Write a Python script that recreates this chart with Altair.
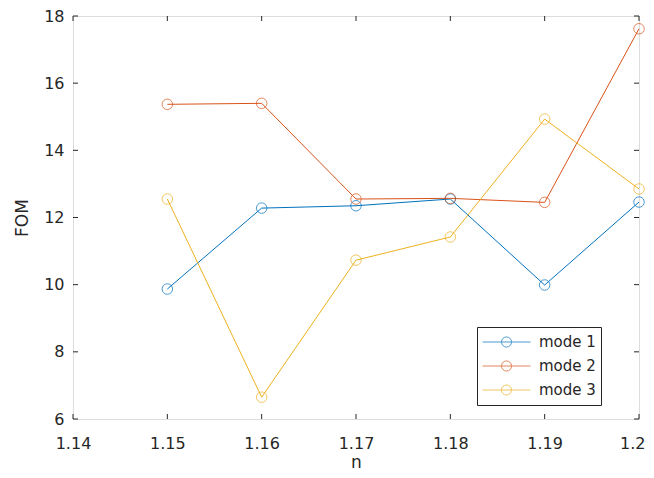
import altair as alt
import pandas as pd

n_vals = [1.15, 1.16, 1.17, 1.18, 1.19, 1.20]
mode1 = [9.87, 12.28, 12.35, 12.55, 9.99, 12.46]
mode2 = [15.37, 15.40, 12.55, 12.57, 12.45, 17.62]
mode3 = [12.55, 6.65, 10.73, 11.42, 14.93, 12.85]
series = ["mode 1", "mode 2", "mode 3"]
colors = ["#0072BD", "#D95319", "#EDB120"]
x_ticks = [1.14, 1.15, 1.16, 1.17, 1.18, 1.19, 1.20]
y_ticks = [6, 8, 10, 12, 14, 16, 18]

rows = []
for name, vals in zip(series, [mode1, mode2, mode3]):
    for n, v in zip(n_vals, vals):
        rows.append({"n": n, "FOM": v, "mode": name})
df = pd.DataFrame(rows)
xt = pd.DataFrame({"n": x_ticks})
yt = pd.DataFrame({"FOM": y_ticks})

W, H = 566, 403
FONT = "DejaVu Sans"
TXT = "#262626"
xscale = alt.Scale(domain=[1.14, 1.2], nice=False, zero=False)
yscale = alt.Scale(domain=[6, 18], nice=False, zero=False)

xaxis = alt.Axis(values=x_ticks, format="~g", ticks=False, grid=False, domain=False,
                 labelFontSize=16, labelColor=TXT, labelPadding=16, labelFont=FONT,
                 labelAlign=alt.ExprRef(expr="datum.value >= 1.195 ? 'right' : 'center'"),
                 labelOffset=alt.ExprRef(expr="datum.value >= 1.195 ? 6 : 0"),
                 title="n", titleFontSize=17, titleFontWeight="normal", titleColor=TXT,
                 titleFont=FONT, titlePadding=3, labelFlush=False, labelOverlap=False)
yaxis = alt.Axis(values=y_ticks, ticks=False, grid=False, domain=False,
                 labelFontSize=16, labelColor=TXT, labelPadding=9, labelFont=FONT,
                 title="FOM", titleFontSize=17, titleFontWeight="normal", titleColor=TXT,
                 titleFont=FONT, titlePadding=12, labelFlush=False, labelOverlap=False)

sym = "M-1,0L1,0M-0.21,0A0.21,0.21,0,1,1,0.21,0A0.21,0.21,0,1,1,-0.21,0"
legend = alt.Legend(title=None, orient="none", legendX=404, legendY=311,
                    fillColor="white", strokeColor=TXT, padding=5,
                    symbolType=sym, symbolSize=2304, symbolStrokeWidth=1,
                    symbolFillColor="transparent", clipHeight=20, rowPadding=4,
                    labelFontSize=15, labelFont=FONT, labelColor=TXT, labelOffset=8,
                    labelExpr="datum.label + '  '")

color = alt.Color("mode:N", scale=alt.Scale(domain=series, range=colors), legend=legend)

lines = alt.Chart(df).mark_line(strokeWidth=1).encode(
    x=alt.X("n:Q", scale=xscale, axis=xaxis),
    y=alt.Y("FOM:Q", scale=yscale, axis=yaxis),
    color=color,
)
points = alt.Chart(df).mark_point(shape="circle", size=110, filled=False, strokeWidth=1).encode(
    x="n:Q", y="FOM:Q", color=color,
)

tk = dict(color=TXT, strokeWidth=1)
bt = alt.Chart(xt).mark_rule(**tk).encode(x="n:Q", y=alt.value(H), y2=alt.value(H - 5))
tt = alt.Chart(xt).mark_rule(**tk).encode(x="n:Q", y=alt.value(0), y2=alt.value(5))
lt = alt.Chart(yt).mark_rule(**tk).encode(y="FOM:Q", x=alt.value(0), x2=alt.value(5))
rt = alt.Chart(yt).mark_rule(**tk).encode(y="FOM:Q", x=alt.value(W), x2=alt.value(W - 5))

chart = alt.layer(lines, points, bt, tt, lt, rt).properties(
    width=W, height=H,
    autosize=alt.AutoSizeParams(type="none"),
    padding={"left": 65, "top": 8, "right": 7, "bottom": 51},
).configure_view(stroke=TXT, strokeWidth=1).configure(background="white")

chart.save("out.html", embed_options={"renderer": "svg", "actions": False})
